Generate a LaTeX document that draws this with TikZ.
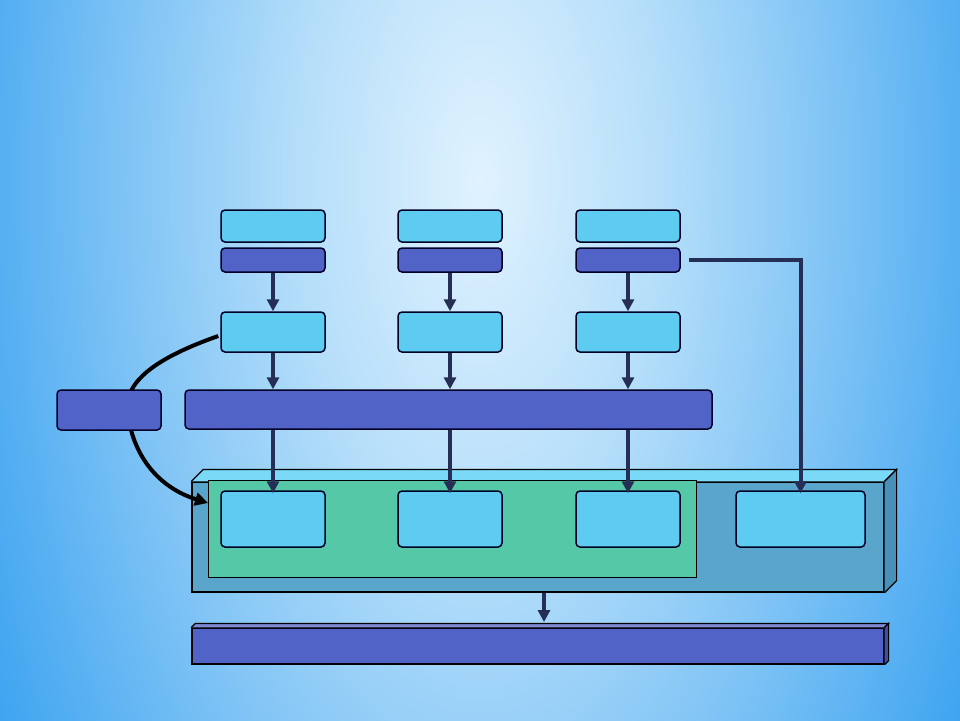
\documentclass[tikz,border=0pt]{standalone}
\usetikzlibrary{arrows.meta,calc}
\definecolor{lightb}{HTML}{5ECBF0}
\definecolor{darkb}{HTML}{5163C7}
\definecolor{greenb}{HTML}{55C8A8}
\definecolor{frontb}{HTML}{5AA5CC}
\definecolor{topb}{HTML}{7AD9F6}
\definecolor{sideb}{HTML}{4A8FB8}
\definecolor{arrowc}{HTML}{252E55}
\definecolor{bgc1}{HTML}{E0F2FE}
\definecolor{bgc2}{HTML}{B5DEFA}
\definecolor{bgc3}{HTML}{7CC2F5}
\definecolor{bgc4}{HTML}{38A1F0}
\pgfdeclareradialshading{bgshade}{\pgfpoint{0bp}{0bp}}{color(0bp)=(bgc1); color(8bp)=(bgc2); color(16bp)=(bgc3); color(25bp)=(bgc4); color(50bp)=(bgc4)}
\tikzset{
  lbox/.style={draw=black!85!blue, line width=1.5pt, fill=lightb, rounded corners=4pt, minimum width=104pt, inner sep=0pt},
  dbox/.style={draw=black!85!blue, line width=1.5pt, fill=darkb, rounded corners=4pt, inner sep=0pt},
  flow/.style={draw=arrowc, line width=4pt, -{Triangle[width=12pt,length=12pt]}},
  curvearrow/.style={draw=black, line width=4pt, -{Triangle[width=13pt,length=13pt]}},
  face/.style={draw=black, line width=1.2pt}
}
\begin{document}
\begin{tikzpicture}[x=1pt,y=-1pt]
\useasboundingbox (0,0) rectangle (960,720);
\begin{scope}
\clip (0,0) rectangle (960,720);
\shade[shading=bgshade] (480,180) ellipse [x radius=570, y radius=1150];
\end{scope}

% top row
\foreach \i/\x in {1/273,2/450,3/628}{
  \node[lbox, minimum height=32pt] (t\i) at (\x,226) {};
  \node[dbox, minimum width=104pt, minimum height=24pt] (d\i) at (\x,260) {};
  \node[lbox, minimum height=40pt] (m\i) at (\x,332) {};
}

% big 3D box
\node[face, fill=frontb, minimum width=692pt, minimum height=110pt, inner sep=0pt] (big) at (538,537) {};
\fill[topb] (big.north west) -- ++(12,-12) -- ($(big.north east)+(12,-12)$) -- (big.north east) -- cycle;
\draw[face] (big.north west) -- ++(12,-12) -- ($(big.north east)+(12,-12)$) -- (big.north east);
\fill[sideb] (big.north east) -- ++(12,-12) -- ($(big.south east)+(12,-12)$) -- (big.south east) -- cycle;
\draw[face] (big.north east) -- ++(12,-12) -- ($(big.south east)+(12,-12)$) -- (big.south east);
\node[face, fill=greenb, minimum width=488pt, minimum height=97pt, inner sep=0pt, anchor=north west] (green) at (208,480) {};

% inner boxes
\foreach \i/\x in {1/273,2/450,3/628}{
  \node[lbox, minimum height=56pt] (i\i) at (\x,519) {};
}
\node[lbox, minimum width=129pt, minimum height=56pt] (i4) at (800.5,519) {};

% curved arrow (drawn before left box so the box covers it)
\coordinate (cstart) at ($(m1.west)+(-2,4)$);
\coordinate (cend) at (208,503);
\draw[curvearrow] (cstart) .. controls (150,360) and (122,385) .. (128,415)
  .. controls (134,458) and (160,488) .. (cend);

% bar and left box
\node[dbox, minimum width=527pt, minimum height=39pt] (bar) at (448.5,409.5) {};
\node[dbox, minimum width=104pt, minimum height=40pt] (lb) at (109,410) {};

% bottom bar
\node[face, fill=darkb, minimum width=692pt, minimum height=36pt, inner sep=0pt] (bot) at (538,646) {};
\fill[darkb!75!white] (bot.north west) -- ++(4,-4) -- ($(bot.north east)+(4,-4)$) -- (bot.north east) -- cycle;
\draw[face] (bot.north west) -- ++(4,-4) -- ($(bot.north east)+(4,-4)$) -- (bot.north east);
\fill[darkb!80!black] (bot.north east) -- ++(4,-4) -- ($(bot.south east)+(4,-4)$) -- (bot.south east) -- cycle;
\draw[face] (bot.north east) -- ++(4,-4) -- ($(bot.south east)+(4,-4)$) -- (bot.south east);

% flow arrows
\foreach \i in {1,2,3}{
  \draw[flow] (d\i.south) -- (m\i.north);
  \draw[flow] (m\i.south) -- (bar.north -| m\i.south);
  \draw[flow] (bar.south -| i\i.north) -- ([yshift=-3pt]i\i.north);
}
\draw[flow, shorten <=8pt] (d3.east) -| ([yshift=-3pt]i4.north);
\coordinate (bigout) at ($(big.south)+(6,0)$);
\draw[flow] (bigout) -- (bigout |- 0,622);
\end{tikzpicture}
\end{document}
